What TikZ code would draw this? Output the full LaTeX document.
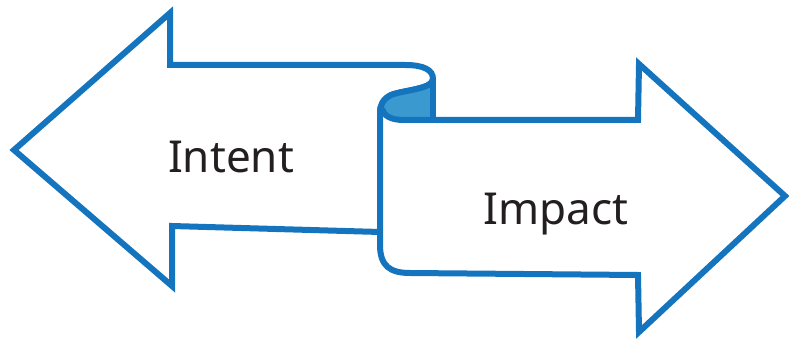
\documentclass[tikz,border=0pt]{standalone}
\usepackage{fontspec}
\setmainfont{Noto Sans}
\definecolor{edgeblue}{HTML}{1474BD}
\definecolor{rollblue}{HTML}{3A9AD0}
\definecolor{inkgray}{HTML}{231F20}
\begin{document}
\begin{tikzpicture}[x=1pt,y=-1pt,
  outline/.style={draw=edgeblue,line width=6pt,line join=miter,line cap=butt,fill=white},
  rollline/.style={draw=edgeblue,line width=6pt},
  label/.style={font=\fontsize{44}{48}\selectfont,text=inkgray,anchor=base,inner sep=0pt}]
\useasboundingbox (0,0) rectangle (789,339);
% curled band: left-pointing arrow turns into right-pointing arrow
\path[outline]
  (380,232) -- (172,226) -- (172,286) -- (14,150) -- (170,13) -- (170,65)
  -- (405,65) .. controls (424,65) and (433,70) .. (433,79)
  .. controls (433,89) and (404,90) .. (391,95)
  .. controls (383,99) and (380,105) .. (380,113)
  -- (380,245) .. controls (380,266) and (390,273) .. (410,273)
  -- (638,275) -- (639,332) -- (785,196) -- (639,64) -- (638,120)
  -- (432,120);
% shaded inside of the roll
\path[fill=rollblue]
  (432,80) .. controls (430,89) and (404,90) .. (391,95)
  .. controls (385,98) and (382,103) .. (383,108)
  .. controls (384,114) and (390,118) .. (402,118) -- (432,118) -- cycle;
\draw[rollline]
  (382,109) .. controls (384,116) and (391,120) .. (404,120) -- (433,120);
\draw[rollline] (433,77) -- (433,122);
\draw[rollline]
  (433,79) .. controls (433,89) and (404,90) .. (391,95)
  .. controls (383,99) and (380,105) .. (380,113);
\node[label] (intent) at (231,173) {Intent};
\node[label] (impact) at (556,224) {Impact};
\end{tikzpicture}
\end{document}
